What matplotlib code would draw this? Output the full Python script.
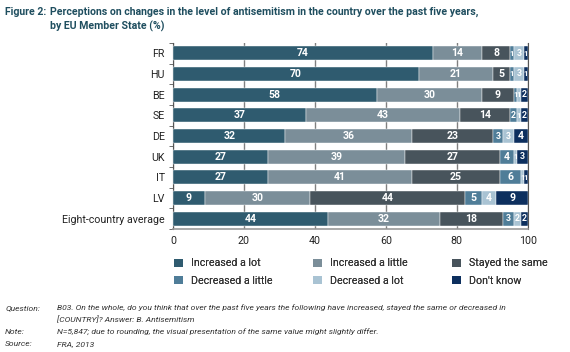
import numpy as np
import matplotlib.pyplot as plt
from matplotlib.patches import Patch

plt.rcParams['font.family'] = ['Roboto', 'DejaVu Sans']

countries = ['FR', 'HU', 'BE', 'SE', 'DE', 'UK', 'IT', 'LV', 'Eight-country average']
categories = ['Increased a lot', 'Increased a little', 'Stayed the same',
              'Decreased a little', 'Decreased a lot', "Don't know"]
increased_lot = [74, 70, 58, 37, 32, 27, 27, 9, 44]
increased_little = [14, 21, 30, 43, 36, 39, 41, 30, 32]
stayed_same = [8, 5, 9, 14, 23, 27, 25, 44, 18]
decreased_little = [1, 1, 1, 2, 3, 4, 6, 5, 3]
decreased_lot = [3, 3, 1, 1, 3, 1, 1, 4, 2]
dont_know = [1, 1, 2, 2, 4, 3, 1, 9, 2]

colors = ['#2f5b6f', '#7b8e99', '#48545c', '#4f7d98', '#a9c3d3', '#0d2f5e']

data = np.array([increased_lot, increased_little, stayed_same,
                 decreased_little, decreased_lot, dont_know], dtype=float)
# rows sum to 99-101 because of rounding, scale bars to fill 100
scaled = data / data.sum(axis=0) * 100

fig = plt.figure(figsize=(5.7, 3.52), dpi=100)
ax = fig.add_axes([0.3035, 0.349, 0.6225, 0.529])

y = np.arange(len(countries))
left = np.zeros(len(countries))
for k in range(len(categories)):
    ax.barh(y, scaled[k], left=left, height=0.68, color=colors[k],
            edgecolor='white', linewidth=0.3, zorder=3)
    for i in range(len(countries)):
        v = int(data[k][i])
        fs = 7.6 if v >= 4 else (6.3 if v >= 2 else 5.6)
        ax.text(left[i] + scaled[k][i] / 2, y[i], str(v),
                ha='center', va='center', color='white', fontsize=fs,
                fontweight='bold', zorder=4)
    left += scaled[k]

ax.set_xlim(0, 100)
ax.set_ylim(len(countries) - 0.5, -0.5)
ax.set_yticks(y)
ax.set_yticklabels(countries, fontsize=7.7, color='#222222')
ax.set_yticks(np.arange(-0.5, len(countries)), minor=True)
ax.tick_params(axis='y', which='major', length=0, pad=6)
ax.tick_params(axis='y', which='minor', length=3, color='#555555', direction='out')
ax.set_xticks([0, 20, 40, 60, 80, 100])
ax.tick_params(axis='x', length=0, labelsize=7.7, colors='#222222', pad=5)
ax.grid(axis='x', color='#808080', linewidth=1, zorder=1)
ax.spines['top'].set_visible(False)
ax.spines['left'].set_color('#555555')
ax.spines['right'].set_color('#555555')
ax.spines['bottom'].set_color('#999999')
ax.spines['bottom'].set_linewidth(1.2)

# legend: three columns, two rows
handles = [Patch(facecolor=c, edgecolor='none') for c in colors]
col_x = [0.298, 0.542, 0.786]
for c in range(3):
    leg = fig.legend([handles[c], handles[c + 3]], [categories[c], categories[c + 3]],
                     loc='upper left', bbox_to_anchor=(col_x[c], 0.278),
                     frameon=False, fontsize=7.7, handlelength=0.8,
                     handleheight=0.8, handletextpad=0.8, labelspacing=0.7,
                     borderaxespad=0, labelcolor='#333333')
    fig.add_artist(leg)

title_color = '#1f4e5f'
fig.text(0.009, 0.967, 'Figure 2:', fontsize=7.6, color=title_color,
         fontweight='bold', va='center')
fig.text(0.088, 0.967, 'Perceptions on changes in the level of antisemitism in the country over the past five years,',
         fontsize=7.6, color=title_color, fontweight='bold', va='center')
fig.text(0.088, 0.925, 'by EU Member State (%)', fontsize=7.6, color=title_color,
         fontweight='bold', va='center')

notes = [
    ('Question:', 'B03. On the whole, do you think that over the past five years the following have increased, stayed the same or decreased in'),
    ('', '[COUNTRY]? Answer: B. Antisemitism'),
    ('Note:', 'N=5,847; due to rounding, the visual presentation of the same value might slightly differ.'),
    ('Source:', 'FRA, 2013'),
]
for j, (head, body) in enumerate(notes):
    yy = 0.125 - j * 0.034
    fig.text(0.009, yy, head, fontsize=6.1, style='italic', color='#333333', va='center')
    fig.text(0.1, yy, body, fontsize=6.1, style='italic', color='#333333', va='center')

fig.savefig('out.png', dpi=100)
